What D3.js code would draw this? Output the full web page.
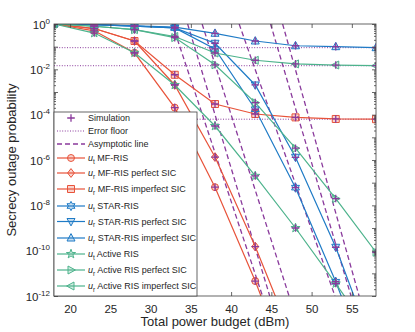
<!DOCTYPE html>
<html>
<head>
<meta charset="utf-8">
<script src="https://cdn.jsdelivr.net/npm/d3@7"></script>
<style>
body { margin: 0; background: #fff; }
text { font-family: "Liberation Sans", Arial, sans-serif; fill: #262626; }
</style>
</head>
<body>
<svg id="chart" width="415" height="332"></svg>
<script>
// x values (dBm)
const power = [18, 23, 28, 33, 38, 43, 48, 53, 58];

// log10 of the secrecy outage probability
const utMF      = [0, -0.3, -1.27, -3.69, -7.2, -11.34, -16];
const urMFp     = [0, -0.2, -0.75, -2.69, -5.87, -9.82, -14.2];
const urMFi     = [0, -0.2, -0.75, -2.24, -3.53, -3.97, -4.12, -4.19, -4.2];
const utSTAR    = [0, -0.03, -0.09, -0.17, -1.1, -3.76, -7.22, -11.37, -16];
const urSTARp   = [0, -0.03, -0.09, -0.17, -0.85, -2.69, -5.88, -9.85, -14.6];
const urSTARi   = [0, -0.03, -0.08, -0.14, -0.41, -0.75, -0.96, -1.0, -1.045];
const utAct     = [0, -0.4, -1.27, -2.69, -4.5, -6.7, -9.0, -11.45, -14];
const urActp    = [0, -0.1, -0.25, -0.6, -1.8, -3.47, -5.48, -7.7, -10.07];
const urActi    = [0, -0.1, -0.25, -0.55, -1.28, -1.6, -1.76, -1.81, -1.84];

// error floors (log10)
const floors = [-1.045, -1.84, -4.2];

// asymptotic lines: power where they hit 10^0 and where they hit 10^-12
const asymTop    = [32.7, 34.6, 36.4, 41.0, 44.9, 46.4];
const asymBottom = [43.9, 44.8, 47.2, 52.9, 54.9, 55.9];

const xTicks = [20, 25, 30, 35, 40, 45, 50, 55];
const yExps = [0, -1, -2, -3, -4, -5, -6, -7, -8, -9, -10, -11, -12];

const red = "#e8533a", blue = "#1f7bc6", green = "#4db38c", purple = "#8a3a9c";

const series = [
  { sub: "t", name: "MF-RIS", v: utMF, c: red, m: "circle" },
  { sub: "r", name: "MF-RIS perfect SIC", v: urMFp, c: red, m: "diamond" },
  { sub: "r", name: "MF-RIS imperfect SIC", v: urMFi, c: red, m: "square" },
  { sub: "t", name: "STAR-RIS", v: utSTAR, c: blue, m: "hexagram" },
  { sub: "r", name: "STAR-RIS perfect SIC", v: urSTARp, c: blue, m: "down" },
  { sub: "r", name: "STAR-RIS imperfect SIC", v: urSTARi, c: blue, m: "up" },
  { sub: "t", name: "Active RIS", v: utAct, c: green, m: "pentagram" },
  { sub: "r", name: "Active RIS perfect SIC", v: urActp, c: green, m: "right" },
  { sub: "r", name: "Active RIS imperfect SIC", v: urActi, c: green, m: "left" }
];

const L = 54, R = 376, T = 24, B = 296;
const x = d3.scaleLinear().domain([18, 58]).range([L, R]);
const y = d3.scaleLog().domain([1e-12, 1]).range([B, T]);

const svg = d3.select("#chart");

svg.append("clipPath").attr("id", "clip")
  .append("rect").attr("x", L).attr("y", T).attr("width", R - L).attr("height", B - T);

function poly(pts) {
  return "M" + pts.map(p => p[0].toFixed(2) + "," + p[1].toFixed(2)).join("L") + "Z";
}
function star(n, ro, ri, rot) {
  const pts = [];
  for (let i = 0; i < 2 * n; i++) {
    const a = rot + i * Math.PI / n;
    const r = i % 2 ? ri : ro;
    pts.push([r * Math.sin(a), -r * Math.cos(a)]);
  }
  return poly(pts);
}
function marker(type) {
  const s = 3.5;
  switch (type) {
    case "circle": return d3.symbol(d3.symbolCircle, 38)();
    case "square": return poly([[-s, -s], [s, -s], [s, s], [-s, s]]);
    case "diamond": return poly([[0, -4.4], [3.4, 0], [0, 4.4], [-3.4, 0]]);
    case "up": return poly([[0, -4.4], [4, 3], [-4, 3]]);
    case "down": return poly([[0, 4.4], [4, -3], [-4, -3]]);
    case "right": return poly([[4.4, 0], [-3, 4], [-3, -4]]);
    case "left": return poly([[-4.4, 0], [3, 4], [3, -4]]);
    case "hexagram": return star(6, 4.6, 2.6, 0);
    case "pentagram": return star(5, 4.8, 1.9, 0);
  }
}

const plot = svg.append("g").attr("clip-path", "url(#clip)");

// error floors
plot.selectAll(".floor").data(floors).enter().append("line")
  .attr("x1", L).attr("x2", R)
  .attr("y1", d => y(10 ** d)).attr("y2", d => y(10 ** d))
  .attr("stroke", purple).attr("stroke-width", 1)
  .attr("stroke-dasharray", "1,1.6");

// asymptotic lines
plot.selectAll(".asym").data(asymTop).enter().append("line")
  .attr("x1", d => x(d)).attr("y1", y(1))
  .attr("x2", (d, i) => x(asymBottom[i])).attr("y2", y(1e-12))
  .attr("stroke", purple).attr("stroke-width", 1.3)
  .attr("stroke-dasharray", "5,3");

const line = d3.line().x((d, i) => x(power[i])).y(d => y(10 ** d));

series.forEach(s => {
  plot.append("path").attr("d", line(s.v))
    .attr("fill", "none").attr("stroke", s.c).attr("stroke-width", 1.2);
});

series.forEach(s => {
  const pts = s.v.map((d, i) => [power[i], d]).filter(p => p[1] >= -12.2);
  plot.selectAll(null).data(pts).enter().append("path")
    .attr("transform", p => `translate(${x(p[0])},${y(10 ** p[1])})`)
    .attr("d", marker(s.m))
    .attr("fill", s.c).attr("fill-opacity", 0.25)
    .attr("stroke", s.c).attr("stroke-width", 1);
});

// simulation points
series.forEach(s => {
  const pts = s.v.map((d, i) => [power[i], d]).filter(p => p[1] >= -12.2);
  plot.selectAll(null).data(pts).enter().append("path")
    .attr("transform", p => `translate(${x(p[0])},${y(10 ** p[1])})`)
    .attr("d", "M-3.8,0H3.8M0,-3.8V3.8")
    .attr("stroke", purple).attr("stroke-width", 1.3);
});

// axes
const axisColor = "#404040";
function styleAxis(g) {
  g.select(".domain").remove();
  g.selectAll("line").attr("stroke", axisColor).attr("stroke-width", 0.8);
}
svg.append("g").attr("transform", `translate(0,${B})`)
  .call(d3.axisBottom(x).tickValues(xTicks).tickSize(-4).tickPadding(9).tickFormat(d3.format("d")))
  .call(styleAxis)
  .selectAll("text").attr("font-size", 11.5).attr("fill", "#262626")
  .style("font-family", "Liberation Sans, Arial, sans-serif");
svg.append("g").attr("transform", `translate(0,${T})`)
  .call(d3.axisTop(x).tickValues(xTicks).tickSize(-4).tickFormat(""))
  .call(styleAxis);

const majors = yExps.map(e => 10 ** e);
const minors = [];
yExps.slice(1).forEach(e => { for (let k = 2; k <= 9; k++) minors.push(k * 10 ** e); });

[[d3.axisLeft, L], [d3.axisRight, R]].forEach(([ax, pos]) => {
  svg.append("g").attr("transform", `translate(${pos},0)`)
    .call(ax(y).tickValues(majors).tickSize(-4).tickFormat(""))
    .call(styleAxis);
  svg.append("g").attr("transform", `translate(${pos},0)`)
    .call(ax(y).tickValues(minors).tickSize(-2).tickFormat(""))
    .call(styleAxis);
});

svg.append("rect").attr("x", L).attr("y", T).attr("width", R - L).attr("height", B - T)
  .attr("fill", "none").attr("stroke", axisColor).attr("stroke-width", 0.8);

// y tick labels 10^e
const yl = svg.append("g").selectAll("text").data(yExps.filter(e => e % 2 === 0)).enter()
  .append("text").attr("x", 50).attr("y", e => y(10 ** e) + 4.5)
  .attr("text-anchor", "end").attr("font-size", 11.5);
yl.append("tspan").text("10");
yl.append("tspan").attr("dy", -5).attr("font-size", 8).text(e => e === 0 ? "0" : "-" + (-e));

svg.append("text").attr("x", (L + R) / 2).attr("y", 326).attr("text-anchor", "middle")
  .attr("font-size", 13).text("Total power budget (dBm)");
svg.append("text").attr("transform", `translate(16,${(T + B) / 2}) rotate(-90)`)
  .attr("text-anchor", "middle").attr("font-size", 13).text("Secrecy outage probability");

// legend
const lg = svg.append("g");
lg.append("rect").attr("x", L).attr("y", 112).attr("width", 143).attr("height", B - 112)
  .attr("fill", "#fff").attr("stroke", axisColor).attr("stroke-width", 0.8);

const legendY = [118, 131, 144, 158, 173, 189, 206, 221.5, 238, 254, 270, 286];
const lx0 = 57, lx1 = 85, lm = 71, lt = 88;

lg.append("path").attr("transform", `translate(${lm},${legendY[0]})`)
  .attr("d", "M-3.8,0H3.8M0,-3.8V3.8").attr("stroke", purple).attr("stroke-width", 1.3);
lg.append("text").attr("x", lt).attr("y", legendY[0] + 3.2).attr("font-size", 9).text("Simulation");
lg.append("line").attr("x1", lx0).attr("x2", lx1).attr("y1", legendY[1]).attr("y2", legendY[1])
  .attr("stroke", purple).attr("stroke-dasharray", "1,1.6");
lg.append("text").attr("x", lt).attr("y", legendY[1] + 3.2).attr("font-size", 9).text("Error floor");
lg.append("line").attr("x1", lx0).attr("x2", lx1).attr("y1", legendY[2]).attr("y2", legendY[2])
  .attr("stroke", purple).attr("stroke-width", 1.3).attr("stroke-dasharray", "5,3");
lg.append("text").attr("x", lt).attr("y", legendY[2] + 3.2).attr("font-size", 9).text("Asymptotic line");

series.forEach((s, i) => {
  const yy = legendY[i + 3];
  lg.append("line").attr("x1", lx0).attr("x2", lx1).attr("y1", yy).attr("y2", yy)
    .attr("stroke", s.c).attr("stroke-width", 1.2);
  lg.append("path").attr("transform", `translate(${lm},${yy})`).attr("d", marker(s.m))
    .attr("fill", s.c).attr("fill-opacity", 0.25).attr("stroke", s.c).attr("stroke-width", 1);
  const t = lg.append("text").attr("x", lt).attr("y", yy + 3.2).attr("font-size", 9);
  t.append("tspan").attr("font-style", "italic").text("u");
  t.append("tspan").attr("dy", 2.5).attr("font-size", 6.5).text(s.sub);
  t.append("tspan").attr("dy", -2.5).text(" " + s.name);
});
</script>
</body>
</html>
